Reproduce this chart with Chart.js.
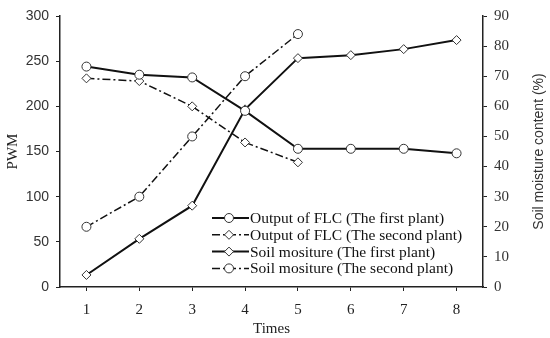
<!DOCTYPE html>
<html>
<head>
<meta charset="utf-8">
<script src="https://cdn.jsdelivr.net/npm/chart.js@4"></script>
<style>
  html, body { margin: 0; padding: 0; background: #fff; }
  #wrap { width: 550px; height: 338px; }
</style>
</head>
<body>
<div id="wrap"><canvas id="chart"></canvas></div>
<script>
// Data
const times = ['1', '2', '3', '4', '5', '6', '7', '8'];
const flcFirst = [244, 235, 232, 195, 153, 153, 153, 148];     // PWM
const flcSecond = [231, 228, 200, 160, 138];                    // PWM
const soilFirst = [4, 16, 27, 59, 76, 77, 79, 82];              // %
const soilSecond = [20, 30, 50, 70, 84];                        // %
const seriesNames = [
    'Output of FLC (The first plant)',
    'Output of FLC (The second plant)',
    'Soil mositure (The first plant)',
    'Soil mositure (The second plant)'
];
const rightTitle = 'Soil moisture content (%)';

const dashDot = [8, 3, 2, 3];
const serif = "'Liberation Serif', serif";
const sans = "'Liberation Sans', sans-serif";

// Legend drawn inside the plot area, each sample = line + marker in the middle
const insideLegend = {
    id: 'insideLegend',
    afterDraw(chart) {
        const ctx = chart.ctx;
        const area = chart.chartArea;
        const x0 = area.left + 152;
        const y0 = area.top + 202;
        const rowH = 16.8;
        ctx.save();
        chart.data.datasets.forEach((ds, i) => {
            const y = y0 + i * rowH;
            ctx.strokeStyle = ds.borderColor;
            ctx.lineWidth = ds.borderWidth;
            ctx.setLineDash(ds.borderDash || []);
            ctx.beginPath();
            ctx.moveTo(x0, y);
            ctx.lineTo(x0 + 37, y);
            ctx.stroke();
            ctx.setLineDash([]);
            ctx.fillStyle = ds.pointBackgroundColor;
            ctx.strokeStyle = ds.pointBorderColor;
            ctx.lineWidth = ds.pointBorderWidth;
            Chart.helpers.drawPoint(ctx, {
                pointStyle: ds.pointStyle,
                radius: ds.pointRadius,
                borderWidth: ds.pointBorderWidth,
                rotation: 0
            }, x0 + 17, y);
            ctx.fillStyle = '#111';
            ctx.font = '15.5px ' + serif;
            ctx.textBaseline = 'middle';
            ctx.textAlign = 'left';
            ctx.fillText(ds.label, x0 + 38, y + 1);
        });
        ctx.restore();
    }
};

// Right axis title reads bottom-to-top like the left one
const rightAxisTitle = {
    id: 'rightAxisTitle',
    afterDraw(chart) {
        const ctx = chart.ctx;
        const area = chart.chartArea;
        ctx.save();
        ctx.translate(chart.width - 11, (area.top + area.bottom) / 2);
        ctx.rotate(-Math.PI / 2);
        ctx.fillStyle = '#333';
        ctx.font = '14px ' + sans;
        ctx.textAlign = 'center';
        ctx.textBaseline = 'middle';
        ctx.fillText(rightTitle, 0, 0);
        ctx.restore();
    }
};

function pointDefaults(style, r) {
    return {
        pointStyle: style,
        pointRadius: r,
        pointHoverRadius: r,
        pointBackgroundColor: '#fff',
        pointBorderColor: '#333',
        pointBorderWidth: 1,
        backgroundColor: '#fff'
    };
}

const ctx = document.getElementById('chart').getContext('2d');
new Chart(ctx, {
    type: 'line',
    data: {
        labels: times,
        datasets: [
            Object.assign({
                label: seriesNames[0],
                data: flcFirst,
                yAxisID: 'y',
                borderColor: '#111',
                borderWidth: 2
            }, pointDefaults('circle', 4.5)),
            Object.assign({
                label: seriesNames[1],
                data: flcSecond,
                yAxisID: 'y',
                borderColor: '#111',
                borderWidth: 1.5,
                borderDash: dashDot
            }, pointDefaults('rectRot', 4.5)),
            Object.assign({
                label: seriesNames[2],
                data: soilFirst,
                yAxisID: 'y1',
                borderColor: '#111',
                borderWidth: 2
            }, pointDefaults('rectRot', 4.5)),
            Object.assign({
                label: seriesNames[3],
                data: soilSecond,
                yAxisID: 'y1',
                borderColor: '#111',
                borderWidth: 1.5,
                borderDash: dashDot
            }, pointDefaults('circle', 4.5))
        ]
    },
    options: {
        responsive: true,
        maintainAspectRatio: false,
        animation: false,
        layout: { padding: { top: 10, right: 0, left: 0, bottom: 0 } },
        plugins: {
            legend: { display: false },
            tooltip: { enabled: false }
        },
        scales: {
            x: {
                type: 'category',
                offset: true,
                grid: { offset: false, drawOnChartArea: false, drawTicks: true, tickLength: 4, tickColor: '#222' },
                border: { display: true, color: '#222', width: 1.5 },
                ticks: { color: '#222', font: { family: serif, size: 15 }, padding: 10 },
                title: { display: true, text: 'Times', color: '#222', font: { family: serif, size: 15 }, padding: { top: 4, bottom: 0 } },
                afterFit(scale) { scale.height = 51; }
            },
            y: {
                position: 'left',
                min: 0,
                max: 300,
                ticks: { stepSize: 50, color: '#333', font: { family: sans, size: 14 }, padding: 7 },
                grid: { drawOnChartArea: false, drawTicks: true, tickLength: 4, tickColor: '#222' },
                border: { display: true, color: '#222', width: 1.5 },
                title: { display: true, text: 'PWM', color: '#222', font: { family: serif, size: 15 }, padding: { bottom: 0 } },
                afterFit(scale) { scale.width = 60; }
            },
            y1: {
                position: 'right',
                min: 0,
                max: 90,
                ticks: { stepSize: 10, color: '#333', font: { family: serif, size: 15 }, padding: 7 },
                grid: { drawOnChartArea: false, drawTicks: true, tickLength: 4, tickColor: '#222' },
                border: { display: true, color: '#222', width: 1.5 },
                title: { display: false },
                afterFit(scale) { scale.width = 67; }
            }
        }
    },
    plugins: [insideLegend, rightAxisTitle]
});
</script>
</body>
</html>
